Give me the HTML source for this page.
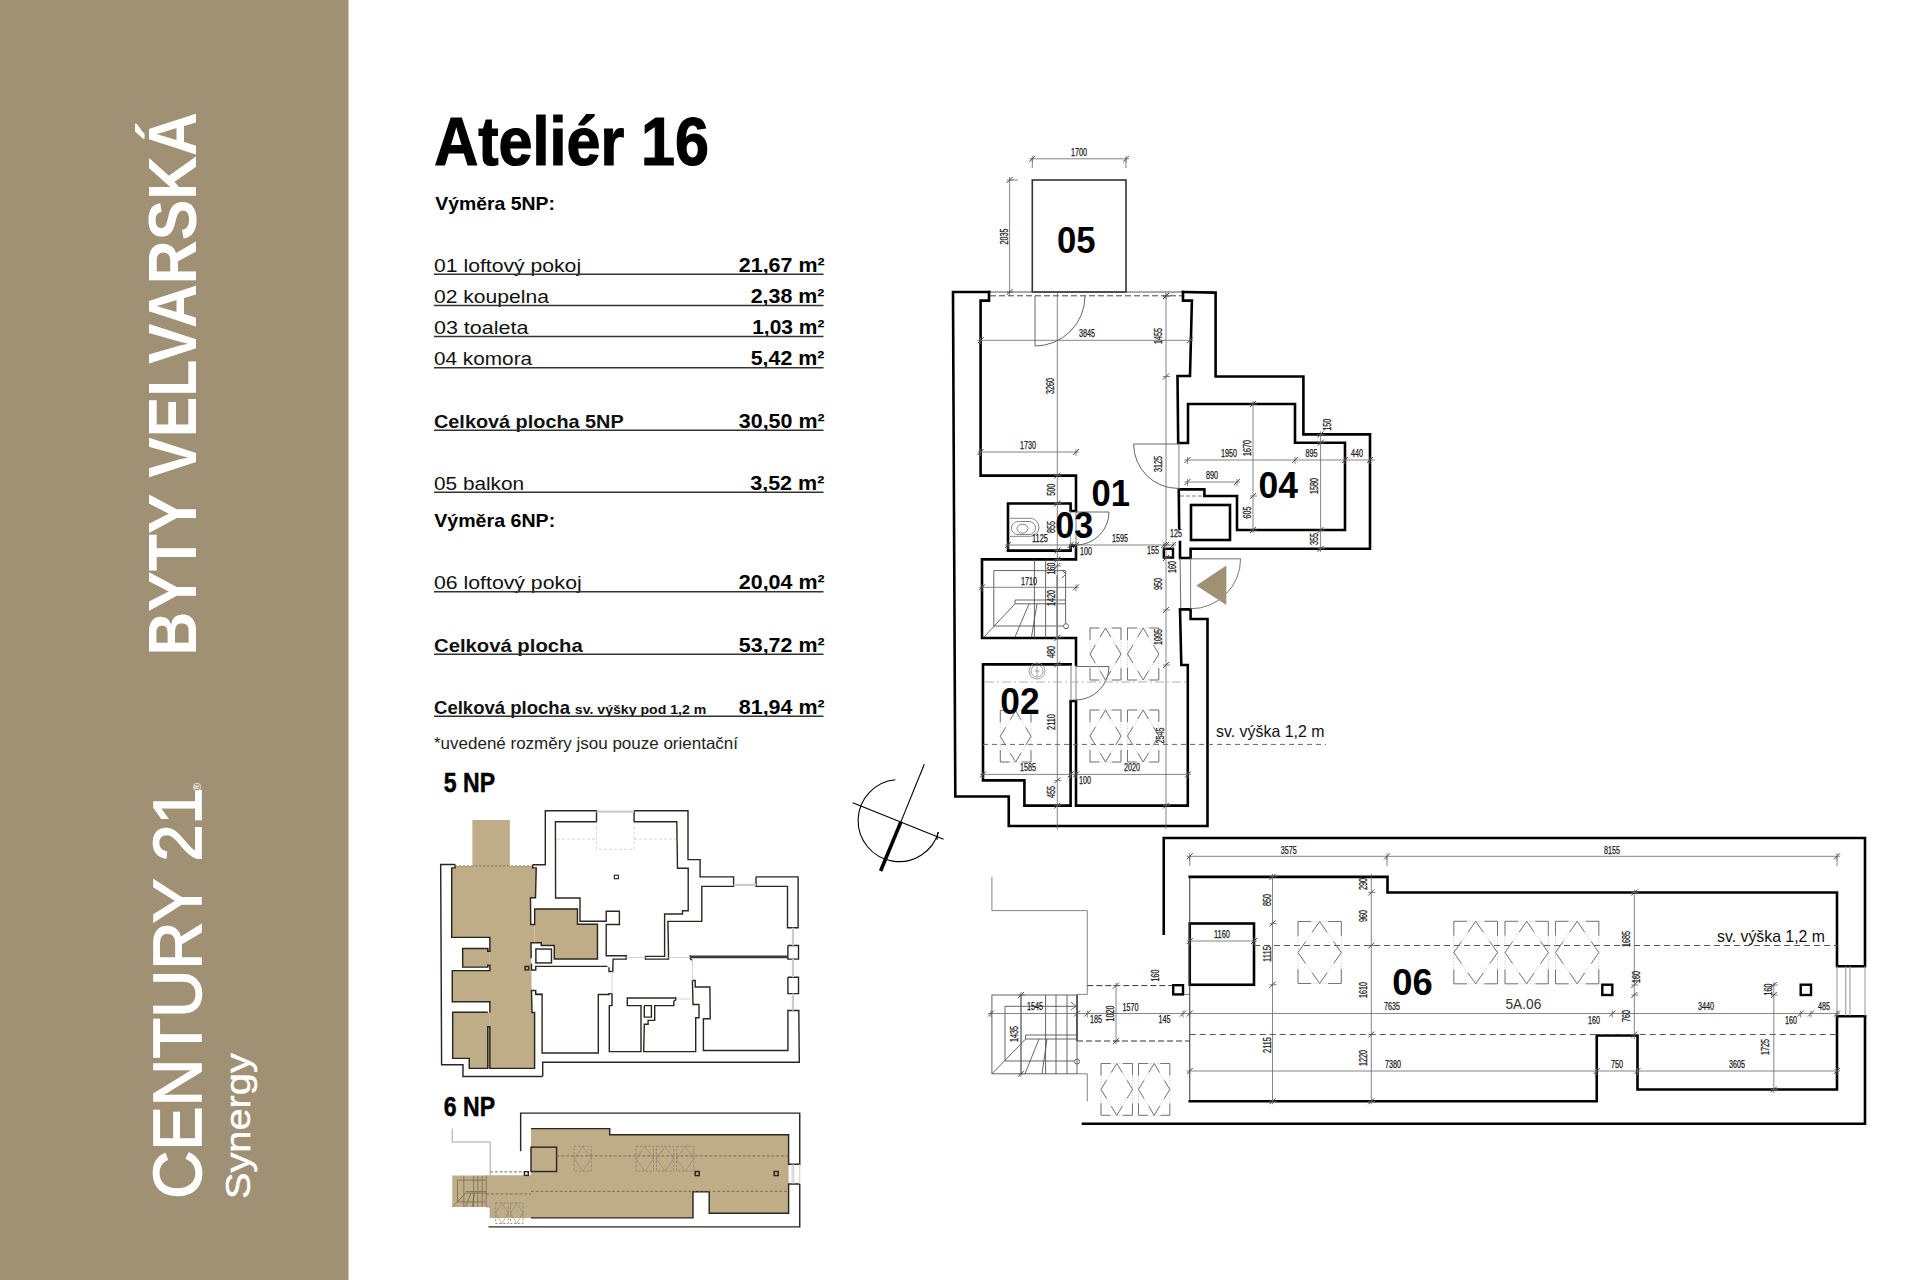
<!DOCTYPE html>
<html><head><meta charset="utf-8"><title>Ateliér 16</title>
<style>html,body{margin:0;padding:0;background:#fff;}svg{display:block;}
text{font-family:"Liberation Sans", sans-serif;}</style></head>
<body><svg width="1920" height="1280" viewBox="0 0 1920 1280">
<rect x="0" y="0" width="1920" height="1280" fill="#fff"/>
<rect x="0" y="0" width="348.5" height="1280" fill="#a09174"/>
<text transform="translate(195.8,655.6) rotate(-90)" font-size="68" font-weight="bold" fill="#fff" textLength="543.6" lengthAdjust="spacingAndGlyphs">BYTY VELVARSKÁ</text>
<text transform="translate(201.2,1198.7) rotate(-90)" font-size="68" font-weight="normal" fill="#fff" textLength="411.2" lengthAdjust="spacingAndGlyphs" stroke="#fff" stroke-width="1.6">CENTURY 21</text>
<text transform="translate(249.8,1199.1) rotate(-90)" font-size="35.5" fill="#fff" textLength="145.9" lengthAdjust="spacingAndGlyphs" stroke="#fff" stroke-width="0.5">Synergy</text>
<text transform="translate(201,791) rotate(-90)" font-size="11" fill="#fff">®</text>
<text x="434.2" y="165" font-size="68" font-weight="bold" fill="#000" text-anchor="start" textLength="274.8" lengthAdjust="spacingAndGlyphs" stroke="#000" stroke-width="1.2">Ateliér 16</text>
<text x="435.2" y="209.5" font-size="18.6" font-weight="bold" fill="#000" text-anchor="start" textLength="119.8" lengthAdjust="spacingAndGlyphs" >Výměra 5NP:</text>
<text x="434.0" y="272" font-size="18.3" font-weight="normal" fill="#111" text-anchor="start" textLength="147.1" lengthAdjust="spacingAndGlyphs" >01 loftový pokoj</text>
<text x="738.8" y="272" font-size="20" font-weight="bold" fill="#000" text-anchor="start" textLength="85.8" lengthAdjust="spacingAndGlyphs" >21,67 m²</text>
<line x1="434" y1="274.3" x2="823.5" y2="274.3" stroke="#333" stroke-width="1.4" />
<text x="434.0" y="303.1" font-size="18.3" font-weight="normal" fill="#111" text-anchor="start" textLength="114.9" lengthAdjust="spacingAndGlyphs" >02 koupelna</text>
<text x="750.6999999999999" y="303.1" font-size="20" font-weight="bold" fill="#000" text-anchor="start" textLength="73.7" lengthAdjust="spacingAndGlyphs" >2,38 m²</text>
<line x1="434" y1="305.5" x2="823.5" y2="305.5" stroke="#333" stroke-width="1.4" />
<text x="434.0" y="334.2" font-size="18.3" font-weight="normal" fill="#111" text-anchor="start" textLength="94.4" lengthAdjust="spacingAndGlyphs" >03 toaleta</text>
<text x="752.1999999999999" y="334.2" font-size="20" font-weight="bold" fill="#000" text-anchor="start" textLength="72.2" lengthAdjust="spacingAndGlyphs" >1,03 m²</text>
<line x1="434" y1="336.5" x2="823.5" y2="336.5" stroke="#333" stroke-width="1.4" />
<text x="434.0" y="365.4" font-size="18.3" font-weight="normal" fill="#111" text-anchor="start" textLength="98.1" lengthAdjust="spacingAndGlyphs" >04 komora</text>
<text x="750.6999999999999" y="365.4" font-size="20" font-weight="bold" fill="#000" text-anchor="start" textLength="73.7" lengthAdjust="spacingAndGlyphs" >5,42 m²</text>
<line x1="434" y1="367.7" x2="823.5" y2="367.7" stroke="#333" stroke-width="1.4" />
<text x="434.0" y="428.1" font-size="18.6" font-weight="bold" fill="#111" text-anchor="start" textLength="189.7" lengthAdjust="spacingAndGlyphs" >Celková plocha 5NP</text>
<text x="738.8" y="428.1" font-size="20" font-weight="bold" fill="#000" text-anchor="start" textLength="85.8" lengthAdjust="spacingAndGlyphs" >30,50 m²</text>
<line x1="434" y1="430.2" x2="823.5" y2="430.2" stroke="#333" stroke-width="1.4" />
<text x="434.0" y="490.2" font-size="18.3" font-weight="normal" fill="#111" text-anchor="start" textLength="90.1" lengthAdjust="spacingAndGlyphs" >05 balkon</text>
<text x="750.1999999999999" y="490.2" font-size="20" font-weight="bold" fill="#000" text-anchor="start" textLength="74.2" lengthAdjust="spacingAndGlyphs" >3,52 m²</text>
<line x1="434" y1="492.3" x2="823.5" y2="492.3" stroke="#333" stroke-width="1.4" />
<text x="434.0" y="589.2" font-size="18.3" font-weight="normal" fill="#111" text-anchor="start" textLength="147.7" lengthAdjust="spacingAndGlyphs" >06 loftový pokoj</text>
<text x="738.8" y="589.2" font-size="20" font-weight="bold" fill="#000" text-anchor="start" textLength="85.8" lengthAdjust="spacingAndGlyphs" >20,04 m²</text>
<line x1="434" y1="591.7" x2="823.5" y2="591.7" stroke="#333" stroke-width="1.4" />
<text x="434.0" y="651.7" font-size="18.6" font-weight="bold" fill="#111" text-anchor="start" textLength="148.7" lengthAdjust="spacingAndGlyphs" >Celková plocha</text>
<text x="738.8" y="651.7" font-size="20" font-weight="bold" fill="#000" text-anchor="start" textLength="85.8" lengthAdjust="spacingAndGlyphs" >53,72 m²</text>
<line x1="434" y1="654.2" x2="823.5" y2="654.2" stroke="#333" stroke-width="1.4" />
<text x="434.0" y="714.2" font-size="18.6" font-weight="bold" fill="#111" text-anchor="start" textLength="136" lengthAdjust="spacingAndGlyphs" >Celková plocha</text>
<text x="574.8" y="714.2" font-size="13.5" font-weight="bold" fill="#111" text-anchor="start" textLength="131.5" lengthAdjust="spacingAndGlyphs" >sv. výšky pod 1,2 m</text>
<text x="738.8" y="714.2" font-size="20" font-weight="bold" fill="#000" text-anchor="start" textLength="85.8" lengthAdjust="spacingAndGlyphs" >81,94 m²</text>
<line x1="434" y1="716.3" x2="823.5" y2="716.3" stroke="#333" stroke-width="1.4" />
<text x="434.2" y="527.1" font-size="18.6" font-weight="bold" fill="#000" text-anchor="start" textLength="121" lengthAdjust="spacingAndGlyphs" >Výměra 6NP:</text>
<text x="434" y="748.5" font-size="16.5" font-weight="normal" fill="#222" text-anchor="start" textLength="304" lengthAdjust="spacingAndGlyphs" >*uvedené rozměry jsou pouze orientační</text>
<text x="443.8" y="792" font-size="27" font-weight="bold" fill="#000" text-anchor="start" textLength="51.2" lengthAdjust="spacingAndGlyphs" stroke="#000" stroke-width="0.5">5 NP</text>
<text x="443.8" y="1115.8" font-size="27" font-weight="bold" fill="#000" text-anchor="start" textLength="51.2" lengthAdjust="spacingAndGlyphs" stroke="#000" stroke-width="0.5">6 NP</text>
<rect x="1032.3" y="180" width="93.7" height="112" fill="none" stroke="#333" stroke-width="1.6"/>
<line x1="1029.3" y1="158.8" x2="1129" y2="158.8" stroke="#666" stroke-width="0.8"/>
<path d="M1029.3,161.8 L1035.3,155.8" stroke="#333" stroke-width="0.9"/>
<line x1="1032.3" y1="155.8" x2="1032.3" y2="162.8" stroke="#666" stroke-width="0.8"/>
<path d="M1123,161.8 L1129,155.8" stroke="#333" stroke-width="0.9"/>
<line x1="1126" y1="155.8" x2="1126" y2="162.8" stroke="#666" stroke-width="0.8"/>
<line x1="1032.3" y1="158" x2="1032.3" y2="168" stroke="#666" stroke-width="0.8"/>
<line x1="1126" y1="158" x2="1126" y2="168" stroke="#666" stroke-width="0.8"/>
<text x="1079" y="156" font-size="10.2" fill="#1a1a1a" text-anchor="middle" textLength="16.0" lengthAdjust="spacingAndGlyphs" stroke="#1a1a1a" stroke-width="0.25">1700</text>
<line x1="1009.6" y1="177" x2="1009.6" y2="295" stroke="#666" stroke-width="0.8"/>
<path d="M1006.6,183 L1012.6,177" stroke="#333" stroke-width="0.9"/>
<line x1="1006.6" y1="180" x2="1013.6" y2="180" stroke="#666" stroke-width="0.8"/>
<path d="M1006.6,295 L1012.6,289" stroke="#333" stroke-width="0.9"/>
<line x1="1006.6" y1="292" x2="1013.6" y2="292" stroke="#666" stroke-width="0.8"/>
<line x1="1009.6" y1="180" x2="1018" y2="180" stroke="#666" stroke-width="0.8"/>
<text transform="translate(1007.8,236.5) rotate(-90)" font-size="10.2" fill="#1a1a1a" text-anchor="middle" textLength="16.0" lengthAdjust="spacingAndGlyphs" stroke="#1a1a1a" stroke-width="0.25">2035</text>
<text x="1057" y="253" font-size="36" font-weight="bold" fill="#000" textLength="38.6" lengthAdjust="spacingAndGlyphs">05</text>
<line x1="989" y1="292" x2="1183" y2="292" stroke="#444" stroke-width="0.9" />
<line x1="990" y1="295.8" x2="1183" y2="295.8" stroke="#444" stroke-width="1" stroke-dasharray="6,3"/>
<path d="M989,292 L953,292 L955.3,796.5 L1008.75,796.5 L1008.75,826 L1207.5,826 L1207.5,619 L1190.6,619 L1190.6,609.4 L1180,609.4 L1181.3,665 L1187.8,665 L1187.8,805.6 L1076,805.6 L1076,701 L1070.6,701 L1070.6,805.6 L1024.4,805.6 L1024.4,780.4 L983,780.4 L983,664.4 L1070.6,664.4" fill="none" stroke="#000" stroke-width="2.6" stroke-linejoin="miter" stroke-linecap="square" />
<path d="M989,292 L989,300.6 L980.6,300.6 L980.6,475.6 L1076,475.6 L1076,511 L1070.6,511 L1070.6,503.5 L1008,503.5 L1008,550.6 L1070.6,550.6 L1070.6,545.6 L1076,545.6 L1076,559.4 L982,559.4 L982,638 L1076,638 L1076,665" fill="none" stroke="#000" stroke-width="2.6" stroke-linejoin="miter" stroke-linecap="square" />
<path d="M1183,292 L1215.6,292.6 L1215.6,376.5 L1303.4,376.5 L1303.4,434.4 L1370,434.4 L1370,548.75 L1190.6,548.75 L1190.6,558 L1180,558 L1180,542" fill="none" stroke="#000" stroke-width="2.6" stroke-linejoin="miter" stroke-linecap="square" />
<path d="M1183,292 L1183,300.6 L1191.9,300.6 L1190,376 L1177.5,376 L1178.2,443 L1188,443 L1188,404 L1295,404 L1295,442.75 L1345,442.75 L1345,530 L1237,530 L1237,496 L1204.4,496 L1204.4,489.4 L1178.75,489.4 L1179.2,528" fill="none" stroke="#000" stroke-width="2.6" stroke-linejoin="miter" stroke-linecap="square" />
<rect x="1191" y="505" width="39" height="35" fill="none" stroke="#000" stroke-width="2.6" />
<rect x="1163.8" y="548.8" width="9.200000000000045" height="8.800000000000068" fill="none" stroke="#000" stroke-width="2.4" />
<line x1="1071" y1="665" x2="1071" y2="701" stroke="#777" stroke-width="0.9" />
<line x1="1076" y1="665" x2="1076" y2="701" stroke="#777" stroke-width="0.9" />
<line x1="1180" y1="558" x2="1180.8" y2="609" stroke="#555" stroke-width="0.9" />
<line x1="1190.6" y1="558" x2="1190.6" y2="609" stroke="#777" stroke-width="0.9" />
<line x1="1076" y1="511" x2="1076" y2="545.6" stroke="#777" stroke-width="0.9" />
<line x1="1070.6" y1="511" x2="1070.6" y2="545.6" stroke="#999" stroke-width="0.9" />
<line x1="1178.9" y1="443" x2="1178.9" y2="489.4" stroke="#777" stroke-width="0.9" />
<line x1="1180" y1="496" x2="1204" y2="496" stroke="#777" stroke-width="0.9" stroke-dasharray="4,2"/>
<path d="M1035,296 L1035,346 A50,50 0 0 0 1085,296" fill="none" stroke="#555" stroke-width="0.9"/>
<path d="M1178,444 L1133.6,444 A44.4,44.4 0 0 0 1178,488.4" fill="none" stroke="#555" stroke-width="0.9"/>
<path d="M1076,512 L1109,512 A33,33 0 0 1 1076,545" fill="none" stroke="#555" stroke-width="0.9"/>
<path d="M1076,666.5 L1109,666.5 A33.5,33.5 0 0 1 1076,700" fill="none" stroke="#555" stroke-width="0.9"/>
<path d="M1190.6,558.8 L1240.6,558.8 A50,50 0 0 1 1190.6,608.8" fill="none" stroke="#666" stroke-width="0.9"/>
<path d="M1196.3,585.6 L1226.3,565.6 L1226.3,605 Z" fill="#a09174"/>
<g fill="none" stroke="#555" stroke-width="0.9"><path d="M993.8,626 L993.8,570.6 L1065.6,570.6 L1065.6,623.5"/><path d="M993.8,626 L1063,626"/><path d="M1034.4,559.4 L1034.4,638 M1045.6,559.4 L1045.6,638 M1015,600 L1065.6,600 M1015,603.8 L1065.6,603.8 M1015,600 L1015,603.8"/><path d="M1015,603.8 L984,637 M1029,603.8 L1015,637 M1037,603.8 L1031.5,637"/><circle cx="1066" cy="626.2" r="2.5"/><path d="M1062,570 L1066,574 L1062,578"/></g>
<line x1="1057" y1="575" x2="1057" y2="638" stroke="#999" stroke-width="1.6" />
<g fill="none" stroke="#666" stroke-width="0.8"><path d="M1010,518.3 L1030,518.3 A9,9 0 0 1 1030,536.3 L1010,536.3"/><ellipse cx="1022.5" cy="528.7" rx="5.5" ry="4.5"/><path d="M1018,521.5 L1029,521.5 A6.5,6.5 0 0 1 1029,534.5 L1018,534.5 A6.5,6.5 0 0 1 1018,521.5"/></g>
<g fill="none" stroke="#888" stroke-width="0.8"><circle cx="1037" cy="671" r="8"/><circle cx="1037" cy="671" r="6"/><path d="M1037,666 L1037,676 M1034.5,671 L1039.5,671"/></g>
<line x1="1057.3" y1="293" x2="1057.3" y2="829" stroke="#666" stroke-width="0.8"/>
<path d="M1054.3,478.6 L1060.3,472.6" stroke="#333" stroke-width="0.9"/>
<line x1="1054.3" y1="475.6" x2="1061.3" y2="475.6" stroke="#666" stroke-width="0.8"/>
<path d="M1054.3,506.5 L1060.3,500.5" stroke="#333" stroke-width="0.9"/>
<line x1="1054.3" y1="503.5" x2="1061.3" y2="503.5" stroke="#666" stroke-width="0.8"/>
<path d="M1054.3,553.6 L1060.3,547.6" stroke="#333" stroke-width="0.9"/>
<line x1="1054.3" y1="550.6" x2="1061.3" y2="550.6" stroke="#666" stroke-width="0.8"/>
<path d="M1054.3,562.4 L1060.3,556.4" stroke="#333" stroke-width="0.9"/>
<line x1="1054.3" y1="559.4" x2="1061.3" y2="559.4" stroke="#666" stroke-width="0.8"/>
<path d="M1054.3,569 L1060.3,563" stroke="#333" stroke-width="0.9"/>
<line x1="1054.3" y1="566" x2="1061.3" y2="566" stroke="#666" stroke-width="0.8"/>
<path d="M1054.3,641 L1060.3,635" stroke="#333" stroke-width="0.9"/>
<line x1="1054.3" y1="638" x2="1061.3" y2="638" stroke="#666" stroke-width="0.8"/>
<path d="M1054.3,667.4 L1060.3,661.4" stroke="#333" stroke-width="0.9"/>
<line x1="1054.3" y1="664.4" x2="1061.3" y2="664.4" stroke="#666" stroke-width="0.8"/>
<path d="M1054.3,783.4 L1060.3,777.4" stroke="#333" stroke-width="0.9"/>
<line x1="1054.3" y1="780.4" x2="1061.3" y2="780.4" stroke="#666" stroke-width="0.8"/>
<path d="M1054.3,808.6 L1060.3,802.6" stroke="#333" stroke-width="0.9"/>
<line x1="1054.3" y1="805.6" x2="1061.3" y2="805.6" stroke="#666" stroke-width="0.8"/>
<line x1="1166" y1="293" x2="1166" y2="829" stroke="#666" stroke-width="0.8"/>
<path d="M1163,299 L1169,293" stroke="#333" stroke-width="0.9"/>
<line x1="1163" y1="296" x2="1170" y2="296" stroke="#666" stroke-width="0.8"/>
<path d="M1163,379.5 L1169,373.5" stroke="#333" stroke-width="0.9"/>
<line x1="1163" y1="376.5" x2="1170" y2="376.5" stroke="#666" stroke-width="0.8"/>
<path d="M1163,548 L1169,542" stroke="#333" stroke-width="0.9"/>
<line x1="1163" y1="545" x2="1170" y2="545" stroke="#666" stroke-width="0.8"/>
<path d="M1163,561 L1169,555" stroke="#333" stroke-width="0.9"/>
<line x1="1163" y1="558" x2="1170" y2="558" stroke="#666" stroke-width="0.8"/>
<path d="M1163,613 L1169,607" stroke="#333" stroke-width="0.9"/>
<line x1="1163" y1="610" x2="1170" y2="610" stroke="#666" stroke-width="0.8"/>
<path d="M1163,668 L1169,662" stroke="#333" stroke-width="0.9"/>
<line x1="1163" y1="665" x2="1170" y2="665" stroke="#666" stroke-width="0.8"/>
<path d="M1163,808.6 L1169,802.6" stroke="#333" stroke-width="0.9"/>
<line x1="1163" y1="805.6" x2="1170" y2="805.6" stroke="#666" stroke-width="0.8"/>
<line x1="977.6" y1="340.3" x2="1193" y2="340.3" stroke="#666" stroke-width="0.8"/>
<path d="M977.6,343.3 L983.6,337.3" stroke="#333" stroke-width="0.9"/>
<line x1="980.6" y1="337.3" x2="980.6" y2="344.3" stroke="#666" stroke-width="0.8"/>
<path d="M1187,343.3 L1193,337.3" stroke="#333" stroke-width="0.9"/>
<line x1="1190" y1="337.3" x2="1190" y2="344.3" stroke="#666" stroke-width="0.8"/>
<line x1="977.6" y1="452" x2="1079" y2="452" stroke="#666" stroke-width="0.8"/>
<path d="M977.6,455 L983.6,449" stroke="#333" stroke-width="0.9"/>
<line x1="980.6" y1="449" x2="980.6" y2="456" stroke="#666" stroke-width="0.8"/>
<path d="M1073,455 L1079,449" stroke="#333" stroke-width="0.9"/>
<line x1="1076" y1="449" x2="1076" y2="456" stroke="#666" stroke-width="0.8"/>
<line x1="1005" y1="545" x2="1176" y2="545" stroke="#666" stroke-width="0.8"/>
<path d="M1005,548 L1011,542" stroke="#333" stroke-width="0.9"/>
<line x1="1008" y1="542" x2="1008" y2="549" stroke="#666" stroke-width="0.8"/>
<path d="M1067.6,548 L1073.6,542" stroke="#333" stroke-width="0.9"/>
<line x1="1070.6" y1="542" x2="1070.6" y2="549" stroke="#666" stroke-width="0.8"/>
<path d="M1073,548 L1079,542" stroke="#333" stroke-width="0.9"/>
<line x1="1076" y1="542" x2="1076" y2="549" stroke="#666" stroke-width="0.8"/>
<path d="M1161,548 L1167,542" stroke="#333" stroke-width="0.9"/>
<line x1="1164" y1="542" x2="1164" y2="549" stroke="#666" stroke-width="0.8"/>
<path d="M1170,548 L1176,542" stroke="#333" stroke-width="0.9"/>
<line x1="1173" y1="542" x2="1173" y2="549" stroke="#666" stroke-width="0.8"/>
<line x1="979" y1="587.3" x2="1079" y2="587.3" stroke="#666" stroke-width="0.8"/>
<path d="M979,590.3 L985,584.3" stroke="#333" stroke-width="0.9"/>
<line x1="982" y1="584.3" x2="982" y2="591.3" stroke="#666" stroke-width="0.8"/>
<path d="M1073,590.3 L1079,584.3" stroke="#333" stroke-width="0.9"/>
<line x1="1076" y1="584.3" x2="1076" y2="591.3" stroke="#666" stroke-width="0.8"/>
<line x1="980" y1="774.4" x2="1191" y2="774.4" stroke="#666" stroke-width="0.8"/>
<path d="M980,777.4 L986,771.4" stroke="#333" stroke-width="0.9"/>
<line x1="983" y1="771.4" x2="983" y2="778.4" stroke="#666" stroke-width="0.8"/>
<path d="M1067.6,777.4 L1073.6,771.4" stroke="#333" stroke-width="0.9"/>
<line x1="1070.6" y1="771.4" x2="1070.6" y2="778.4" stroke="#666" stroke-width="0.8"/>
<path d="M1073,777.4 L1079,771.4" stroke="#333" stroke-width="0.9"/>
<line x1="1076" y1="771.4" x2="1076" y2="778.4" stroke="#666" stroke-width="0.8"/>
<path d="M1185,777.4 L1191,771.4" stroke="#333" stroke-width="0.9"/>
<line x1="1188" y1="771.4" x2="1188" y2="778.4" stroke="#666" stroke-width="0.8"/>
<line x1="1184.5" y1="460" x2="1375" y2="460" stroke="#666" stroke-width="0.8"/>
<path d="M1184.5,463 L1190.5,457" stroke="#333" stroke-width="0.9"/>
<line x1="1187.5" y1="457" x2="1187.5" y2="464" stroke="#666" stroke-width="0.8"/>
<path d="M1292,463 L1298,457" stroke="#333" stroke-width="0.9"/>
<line x1="1295" y1="457" x2="1295" y2="464" stroke="#666" stroke-width="0.8"/>
<path d="M1342,463 L1348,457" stroke="#333" stroke-width="0.9"/>
<line x1="1345" y1="457" x2="1345" y2="464" stroke="#666" stroke-width="0.8"/>
<path d="M1367,463 L1373,457" stroke="#333" stroke-width="0.9"/>
<line x1="1370" y1="457" x2="1370" y2="464" stroke="#666" stroke-width="0.8"/>
<line x1="1184.5" y1="482" x2="1240" y2="482" stroke="#666" stroke-width="0.8"/>
<path d="M1184.5,485 L1190.5,479" stroke="#333" stroke-width="0.9"/>
<line x1="1187.5" y1="479" x2="1187.5" y2="486" stroke="#666" stroke-width="0.8"/>
<path d="M1234,485 L1240,479" stroke="#333" stroke-width="0.9"/>
<line x1="1237" y1="479" x2="1237" y2="486" stroke="#666" stroke-width="0.8"/>
<line x1="1253" y1="401" x2="1253" y2="533" stroke="#666" stroke-width="0.8"/>
<path d="M1250,407 L1256,401" stroke="#333" stroke-width="0.9"/>
<line x1="1250" y1="404" x2="1257" y2="404" stroke="#666" stroke-width="0.8"/>
<path d="M1250,499 L1256,493" stroke="#333" stroke-width="0.9"/>
<line x1="1250" y1="496" x2="1257" y2="496" stroke="#666" stroke-width="0.8"/>
<path d="M1250,533 L1256,527" stroke="#333" stroke-width="0.9"/>
<line x1="1250" y1="530" x2="1257" y2="530" stroke="#666" stroke-width="0.8"/>
<line x1="1320.6" y1="431.4" x2="1320.6" y2="552" stroke="#666" stroke-width="0.8"/>
<path d="M1317.6,437.4 L1323.6,431.4" stroke="#333" stroke-width="0.9"/>
<line x1="1317.6" y1="434.4" x2="1324.6" y2="434.4" stroke="#666" stroke-width="0.8"/>
<path d="M1317.6,445.75 L1323.6,439.75" stroke="#333" stroke-width="0.9"/>
<line x1="1317.6" y1="442.75" x2="1324.6" y2="442.75" stroke="#666" stroke-width="0.8"/>
<path d="M1317.6,533 L1323.6,527" stroke="#333" stroke-width="0.9"/>
<line x1="1317.6" y1="530" x2="1324.6" y2="530" stroke="#666" stroke-width="0.8"/>
<path d="M1317.6,551.75 L1323.6,545.75" stroke="#333" stroke-width="0.9"/>
<line x1="1317.6" y1="548.75" x2="1324.6" y2="548.75" stroke="#666" stroke-width="0.8"/>
<line x1="1166" y1="293" x2="1166" y2="299" stroke="#666" stroke-width="0.8"/>
<path d="M1163,299 L1169,293" stroke="#333" stroke-width="0.9"/>
<line x1="1163" y1="296" x2="1170" y2="296" stroke="#666" stroke-width="0.8"/>
<path d="M1163,299 L1169,293" stroke="#333" stroke-width="0.9"/>
<line x1="1163" y1="296" x2="1170" y2="296" stroke="#666" stroke-width="0.8"/>
<text x="1087" y="336.5" font-size="10.2" fill="#1a1a1a" text-anchor="middle" textLength="16.0" lengthAdjust="spacingAndGlyphs" stroke="#1a1a1a" stroke-width="0.25">3845</text>
<text x="1028" y="449" font-size="10.2" fill="#1a1a1a" text-anchor="middle" textLength="16.0" lengthAdjust="spacingAndGlyphs" stroke="#1a1a1a" stroke-width="0.25">1730</text>
<text x="1040" y="542" font-size="10.2" fill="#1a1a1a" text-anchor="middle" textLength="16.0" lengthAdjust="spacingAndGlyphs" stroke="#1a1a1a" stroke-width="0.25">1125</text>
<text x="1120" y="542" font-size="10.2" fill="#1a1a1a" text-anchor="middle" textLength="16.0" lengthAdjust="spacingAndGlyphs" stroke="#1a1a1a" stroke-width="0.25">1595</text>
<text x="1029" y="585" font-size="10.2" fill="#1a1a1a" text-anchor="middle" textLength="16.0" lengthAdjust="spacingAndGlyphs" stroke="#1a1a1a" stroke-width="0.25">1710</text>
<text x="1028" y="771" font-size="10.2" fill="#1a1a1a" text-anchor="middle" textLength="16.0" lengthAdjust="spacingAndGlyphs" stroke="#1a1a1a" stroke-width="0.25">1585</text>
<text x="1132" y="771" font-size="10.2" fill="#1a1a1a" text-anchor="middle" textLength="16.0" lengthAdjust="spacingAndGlyphs" stroke="#1a1a1a" stroke-width="0.25">2020</text>
<text x="1086" y="555" font-size="10.2" fill="#1a1a1a" text-anchor="middle" textLength="12.0" lengthAdjust="spacingAndGlyphs" stroke="#1a1a1a" stroke-width="0.25">100</text>
<text x="1085" y="784" font-size="10.2" fill="#1a1a1a" text-anchor="middle" textLength="12.0" lengthAdjust="spacingAndGlyphs" stroke="#1a1a1a" stroke-width="0.25">100</text>
<text x="1153" y="554" font-size="10.2" fill="#1a1a1a" text-anchor="middle" textLength="12.0" lengthAdjust="spacingAndGlyphs" stroke="#1a1a1a" stroke-width="0.25">155</text>
<text x="1176" y="537" font-size="10.2" fill="#1a1a1a" text-anchor="middle" textLength="12.0" lengthAdjust="spacingAndGlyphs" stroke="#1a1a1a" stroke-width="0.25">125</text>
<text x="1229" y="457" font-size="10.2" fill="#1a1a1a" text-anchor="middle" textLength="16.0" lengthAdjust="spacingAndGlyphs" stroke="#1a1a1a" stroke-width="0.25">1950</text>
<text x="1311.5" y="457" font-size="10.2" fill="#1a1a1a" text-anchor="middle" textLength="12.0" lengthAdjust="spacingAndGlyphs" stroke="#1a1a1a" stroke-width="0.25">895</text>
<text x="1357" y="457" font-size="10.2" fill="#1a1a1a" text-anchor="middle" textLength="12.0" lengthAdjust="spacingAndGlyphs" stroke="#1a1a1a" stroke-width="0.25">440</text>
<text x="1212" y="479" font-size="10.2" fill="#1a1a1a" text-anchor="middle" textLength="12.0" lengthAdjust="spacingAndGlyphs" stroke="#1a1a1a" stroke-width="0.25">890</text>
<text transform="translate(1054,386) rotate(-90)" font-size="10.2" fill="#1a1a1a" text-anchor="middle" textLength="16.0" lengthAdjust="spacingAndGlyphs" stroke="#1a1a1a" stroke-width="0.25">3260</text>
<text transform="translate(1162,336) rotate(-90)" font-size="10.2" fill="#1a1a1a" text-anchor="middle" textLength="16.0" lengthAdjust="spacingAndGlyphs" stroke="#1a1a1a" stroke-width="0.25">1455</text>
<text transform="translate(1162,464) rotate(-90)" font-size="10.2" fill="#1a1a1a" text-anchor="middle" textLength="16.0" lengthAdjust="spacingAndGlyphs" stroke="#1a1a1a" stroke-width="0.25">3125</text>
<text transform="translate(1055,489.7) rotate(-90)" font-size="10.2" fill="#1a1a1a" text-anchor="middle" textLength="12.0" lengthAdjust="spacingAndGlyphs" stroke="#1a1a1a" stroke-width="0.25">500</text>
<text transform="translate(1055,527) rotate(-90)" font-size="10.2" fill="#1a1a1a" text-anchor="middle" textLength="12.0" lengthAdjust="spacingAndGlyphs" stroke="#1a1a1a" stroke-width="0.25">855</text>
<text transform="translate(1055,568.4) rotate(-90)" font-size="10.2" fill="#1a1a1a" text-anchor="middle" textLength="12.0" lengthAdjust="spacingAndGlyphs" stroke="#1a1a1a" stroke-width="0.25">160</text>
<text transform="translate(1055,598) rotate(-90)" font-size="10.2" fill="#1a1a1a" text-anchor="middle" textLength="16.0" lengthAdjust="spacingAndGlyphs" stroke="#1a1a1a" stroke-width="0.25">1420</text>
<text transform="translate(1055,652) rotate(-90)" font-size="10.2" fill="#1a1a1a" text-anchor="middle" textLength="12.0" lengthAdjust="spacingAndGlyphs" stroke="#1a1a1a" stroke-width="0.25">480</text>
<text transform="translate(1055,722) rotate(-90)" font-size="10.2" fill="#1a1a1a" text-anchor="middle" textLength="16.0" lengthAdjust="spacingAndGlyphs" stroke="#1a1a1a" stroke-width="0.25">2110</text>
<text transform="translate(1055,792) rotate(-90)" font-size="10.2" fill="#1a1a1a" text-anchor="middle" textLength="12.0" lengthAdjust="spacingAndGlyphs" stroke="#1a1a1a" stroke-width="0.25">455</text>
<text transform="translate(1162,584) rotate(-90)" font-size="10.2" fill="#1a1a1a" text-anchor="middle" textLength="12.0" lengthAdjust="spacingAndGlyphs" stroke="#1a1a1a" stroke-width="0.25">950</text>
<text transform="translate(1176,567) rotate(-90)" font-size="10.2" fill="#1a1a1a" text-anchor="middle" textLength="12.0" lengthAdjust="spacingAndGlyphs" stroke="#1a1a1a" stroke-width="0.25">160</text>
<text transform="translate(1162,637) rotate(-90)" font-size="10.2" fill="#1a1a1a" text-anchor="middle" textLength="16.0" lengthAdjust="spacingAndGlyphs" stroke="#1a1a1a" stroke-width="0.25">1005</text>
<text transform="translate(1163.5,735.4) rotate(-90)" font-size="10.2" fill="#1a1a1a" text-anchor="middle" textLength="16.0" lengthAdjust="spacingAndGlyphs" stroke="#1a1a1a" stroke-width="0.25">2545</text>
<text transform="translate(1250.6,448) rotate(-90)" font-size="10.2" fill="#1a1a1a" text-anchor="middle" textLength="16.0" lengthAdjust="spacingAndGlyphs" stroke="#1a1a1a" stroke-width="0.25">1670</text>
<text transform="translate(1250.6,512.5) rotate(-90)" font-size="10.2" fill="#1a1a1a" text-anchor="middle" textLength="12.0" lengthAdjust="spacingAndGlyphs" stroke="#1a1a1a" stroke-width="0.25">605</text>
<text transform="translate(1318,486) rotate(-90)" font-size="10.2" fill="#1a1a1a" text-anchor="middle" textLength="16.0" lengthAdjust="spacingAndGlyphs" stroke="#1a1a1a" stroke-width="0.25">1580</text>
<text transform="translate(1330.6,424.7) rotate(-90)" font-size="10.2" fill="#1a1a1a" text-anchor="middle" textLength="12.0" lengthAdjust="spacingAndGlyphs" stroke="#1a1a1a" stroke-width="0.25">150</text>
<text transform="translate(1318,539) rotate(-90)" font-size="10.2" fill="#1a1a1a" text-anchor="middle" textLength="12.0" lengthAdjust="spacingAndGlyphs" stroke="#1a1a1a" stroke-width="0.25">355</text>
<line x1="983" y1="744.4" x2="1326" y2="744.4" stroke="#666" stroke-width="1" stroke-dasharray="5,4"/>
<line x1="985" y1="682" x2="1186" y2="682" stroke="#aaa" stroke-width="0.9" stroke-dasharray="9,3,2,3"/>
<rect x="1090" y="628" width="31" height="52" fill="none" stroke="#c8c8c8" stroke-width="0.8" stroke-dasharray="1.5,1.5"/>
<path d="M1105.5,628 L1121,654.0 L1105.5,680 L1090,654.0 Z" fill="none" stroke="#c8c8c8" stroke-width="0.8" stroke-dasharray="1.5,1.5"/>
<path d="M1090,639.96 L1090,628 L1099.3,628 M1111.7,628 L1121,628 L1121,639.96 M1121,668.04 L1121,680 L1111.7,680 M1099.3,680 L1090,680 L1090,668.04 M1100.1,637.1 L1105.5,628.0 L1110.9,637.1 M1115.6,644.9 L1121.0,654.0 L1115.6,663.1 M1110.9,670.9 L1105.5,680.0 L1100.1,670.9 M1095.4,663.1 L1090.0,654.0 L1095.4,644.9 " fill="none" stroke="#707070" stroke-width="0.95"/>
<rect x="1127.5" y="628" width="31.299999999999955" height="52" fill="none" stroke="#c8c8c8" stroke-width="0.8" stroke-dasharray="1.5,1.5"/>
<path d="M1143.15,628 L1158.8,654.0 L1143.15,680 L1127.5,654.0 Z" fill="none" stroke="#c8c8c8" stroke-width="0.8" stroke-dasharray="1.5,1.5"/>
<path d="M1127.5,639.96 L1127.5,628 L1136.8899999999999,628 M1149.4099999999999,628 L1158.8,628 L1158.8,639.96 M1158.8,668.04 L1158.8,680 L1149.4099999999999,680 M1136.8899999999999,680 L1127.5,680 L1127.5,668.04 M1137.7,637.1 L1143.2,628.0 L1148.6,637.1 M1153.3,644.9 L1158.8,654.0 L1153.3,663.1 M1148.6,670.9 L1143.2,680.0 L1137.7,670.9 M1133.0,663.1 L1127.5,654.0 L1133.0,644.9 " fill="none" stroke="#707070" stroke-width="0.95"/>
<rect x="1090" y="710" width="31" height="52" fill="none" stroke="#c8c8c8" stroke-width="0.8" stroke-dasharray="1.5,1.5"/>
<path d="M1105.5,710 L1121,736.0 L1105.5,762 L1090,736.0 Z" fill="none" stroke="#c8c8c8" stroke-width="0.8" stroke-dasharray="1.5,1.5"/>
<path d="M1090,721.96 L1090,710 L1099.3,710 M1111.7,710 L1121,710 L1121,721.96 M1121,750.04 L1121,762 L1111.7,762 M1099.3,762 L1090,762 L1090,750.04 M1100.1,719.1 L1105.5,710.0 L1110.9,719.1 M1115.6,726.9 L1121.0,736.0 L1115.6,745.1 M1110.9,752.9 L1105.5,762.0 L1100.1,752.9 M1095.4,745.1 L1090.0,736.0 L1095.4,726.9 " fill="none" stroke="#707070" stroke-width="0.95"/>
<rect x="1127.5" y="710" width="31.299999999999955" height="52" fill="none" stroke="#c8c8c8" stroke-width="0.8" stroke-dasharray="1.5,1.5"/>
<path d="M1143.15,710 L1158.8,736.0 L1143.15,762 L1127.5,736.0 Z" fill="none" stroke="#c8c8c8" stroke-width="0.8" stroke-dasharray="1.5,1.5"/>
<path d="M1127.5,721.96 L1127.5,710 L1136.8899999999999,710 M1149.4099999999999,710 L1158.8,710 L1158.8,721.96 M1158.8,750.04 L1158.8,762 L1149.4099999999999,762 M1136.8899999999999,762 L1127.5,762 L1127.5,750.04 M1137.7,719.1 L1143.2,710.0 L1148.6,719.1 M1153.3,726.9 L1158.8,736.0 L1153.3,745.1 M1148.6,752.9 L1143.2,762.0 L1137.7,752.9 M1133.0,745.1 L1127.5,736.0 L1133.0,726.9 " fill="none" stroke="#707070" stroke-width="0.95"/>
<rect x="1000.3" y="710.6" width="30.700000000000045" height="51.39999999999998" fill="none" stroke="#c8c8c8" stroke-width="0.8" stroke-dasharray="1.5,1.5"/>
<path d="M1015.65,710.6 L1031,736.3 L1015.65,762 L1000.3,736.3 Z" fill="none" stroke="#c8c8c8" stroke-width="0.8" stroke-dasharray="1.5,1.5"/>
<path d="M1000.3,722.422 L1000.3,710.6 L1009.51,710.6 M1021.79,710.6 L1031,710.6 L1031,722.422 M1031,750.178 L1031,762 L1021.79,762 M1009.51,762 L1000.3,762 L1000.3,750.178 M1010.3,719.6 L1015.6,710.6 L1021.0,719.6 M1025.6,727.3 L1031.0,736.3 L1025.6,745.3 M1021.0,753.0 L1015.6,762.0 L1010.3,753.0 M1005.7,745.3 L1000.3,736.3 L1005.7,727.3 " fill="none" stroke="#707070" stroke-width="0.95"/>
<text x="1091.5" y="505.6" font-size="36" font-weight="bold" fill="#000" textLength="38.5" lengthAdjust="spacingAndGlyphs">01</text>
<text x="1055.3" y="538" font-size="36" font-weight="bold" fill="#000" textLength="38" lengthAdjust="spacingAndGlyphs">03</text>
<text x="1258.5" y="497.8" font-size="36" font-weight="bold" fill="#000" textLength="39.5" lengthAdjust="spacingAndGlyphs">04</text>
<text x="1000.3" y="714.4" font-size="36" font-weight="bold" fill="#000" textLength="39.3" lengthAdjust="spacingAndGlyphs">02</text>
<text x="1216" y="737" font-size="16.5" fill="#111" textLength="108.5" lengthAdjust="spacingAndGlyphs">sv. výška 1,2 m</text>
<g fill="none" stroke="#000"><path d="M895.3,779.8 A41,41 0 1 0 938.5,832" stroke-width="1.1"/><line x1="924.3" y1="764.2" x2="901" y2="821.6" stroke-width="1.1"/><line x1="901" y1="821.6" x2="880.6" y2="871" stroke-width="3.6"/><line x1="852.7" y1="802.8" x2="943.6" y2="839.3" stroke-width="1.1"/><line x1="938" y1="832" x2="937" y2="840" stroke-width="1"/></g>
<g fill="none" stroke="#777" stroke-width="0.9"><path d="M991.9,876.9 L991.9,910.6 L1087.3,910.6 L1087.3,994.4 L1077,994.4 L1077,1041"/><path d="M1077,1073.8 L1087.3,1073.8 L1087.3,1101.3"/><path d="M1183,994.4 L1189.8,994.4"/></g>
<line x1="1087.3" y1="985.6" x2="1173" y2="985.6" stroke="#333" stroke-width="1" stroke-dasharray="6,3"/>
<line x1="1077" y1="1041" x2="1189.8" y2="1041" stroke="#333" stroke-width="1" stroke-dasharray="6,3"/>
<g fill="none" stroke="#555" stroke-width="0.9"><rect x="991.9" y="995" width="85.1" height="78.8"/><path d="M1021,995 L1021,1073.8 M1045.6,995 L1045.6,1073.8 M1056,995 L1056,1073.8 M1067,995 L1067,1073.8"/><path d="M1005,1061 L1005,1006.3 L1076,1006.3 M1005,1061 L1074.5,1061"/><path d="M1025.6,1035 L1077,1035 M1025.6,1039 L1077,1039 M1025.6,1035 L1025.6,1039"/><path d="M1025.6,1039 L992,1073.8 M1039,1039 L1025,1073.8 M1047,1039 L1042,1073.8"/><circle cx="1077" cy="1061.5" r="2.5"/><path d="M1071,1002 L1076,1006.3 L1071,1010"/></g>
<line x1="1077" y1="995" x2="1077" y2="1041" stroke="#444" stroke-width="1.4" />
<path d="M1189.75,876.9 L1387.5,876.9 L1387.5,892.5 L1837,892.5 L1837,966.25 L1865,966.25 L1865,838 L1163.75,838 L1163.75,933.75" fill="none" stroke="#000" stroke-width="2.6" stroke-linejoin="miter" stroke-linecap="square" />
<path d="M1865,1016.25 L1837,1016.25 L1837,1089.5 L1637.5,1089.5 L1637.5,1035.5 L1596.75,1035.5 L1596.75,1101.25 L1189.75,1101.25" fill="none" stroke="#000" stroke-width="2.6" stroke-linejoin="miter" stroke-linecap="square" />
<path d="M1865,1016.25 L1865,1123.75 L1083,1123.75" fill="none" stroke="#000" stroke-width="2.6" stroke-linejoin="miter" stroke-linecap="square" />
<rect x="1189.75" y="923.5" width="64.25" height="61.25" fill="none" stroke="#000" stroke-width="2.6" />
<rect x="1173.2" y="985.2" width="9.799999999999955" height="9.199999999999932" fill="none" stroke="#000" stroke-width="2.4" />
<rect x="1602.3" y="984.7" width="10.0" height="10.299999999999955" fill="none" stroke="#000" stroke-width="2.4" />
<rect x="1800.7" y="984.7" width="10.299999999999955" height="10.299999999999955" fill="none" stroke="#000" stroke-width="2.4" />
<line x1="1189.75" y1="876.9" x2="1189.75" y2="1101.25" stroke="#333" stroke-width="1" />
<g stroke="#888" stroke-width="0.9"><line x1="1845.8" y1="966" x2="1845.8" y2="1016"/><line x1="1850" y1="966" x2="1850" y2="1016"/><line x1="1837" y1="966" x2="1837" y2="1016"/><line x1="1865" y1="966" x2="1865" y2="1016"/></g>
<line x1="1254" y1="945.5" x2="1837" y2="945.5" stroke="#555" stroke-width="1" stroke-dasharray="6,4"/>
<line x1="1189.75" y1="1034.5" x2="1837" y2="1034.5" stroke="#555" stroke-width="1" stroke-dasharray="6,4"/>
<rect x="1101" y="1063.5" width="31.5" height="51.799999999999955" fill="none" stroke="#c8c8c8" stroke-width="0.8" stroke-dasharray="1.5,1.5"/>
<path d="M1116.75,1063.5 L1132.5,1089.4 L1116.75,1115.3 L1101,1089.4 Z" fill="none" stroke="#c8c8c8" stroke-width="0.8" stroke-dasharray="1.5,1.5"/>
<path d="M1101,1075.414 L1101,1063.5 L1110.45,1063.5 M1123.05,1063.5 L1132.5,1063.5 L1132.5,1075.414 M1132.5,1103.386 L1132.5,1115.3 L1123.05,1115.3 M1110.45,1115.3 L1101,1115.3 L1101,1103.386 M1111.2,1072.6 L1116.8,1063.5 L1122.3,1072.6 M1127.0,1080.3 L1132.5,1089.4 L1127.0,1098.5 M1122.3,1106.2 L1116.8,1115.3 L1111.2,1106.2 M1106.5,1098.5 L1101.0,1089.4 L1106.5,1080.3 " fill="none" stroke="#707070" stroke-width="0.95"/>
<rect x="1138.5" y="1063.5" width="31.299999999999955" height="51.799999999999955" fill="none" stroke="#c8c8c8" stroke-width="0.8" stroke-dasharray="1.5,1.5"/>
<path d="M1154.15,1063.5 L1169.8,1089.4 L1154.15,1115.3 L1138.5,1089.4 Z" fill="none" stroke="#c8c8c8" stroke-width="0.8" stroke-dasharray="1.5,1.5"/>
<path d="M1138.5,1075.414 L1138.5,1063.5 L1147.8899999999999,1063.5 M1160.4099999999999,1063.5 L1169.8,1063.5 L1169.8,1075.414 M1169.8,1103.386 L1169.8,1115.3 L1160.4099999999999,1115.3 M1147.8899999999999,1115.3 L1138.5,1115.3 L1138.5,1103.386 M1148.7,1072.6 L1154.2,1063.5 L1159.6,1072.6 M1164.3,1080.3 L1169.8,1089.4 L1164.3,1098.5 M1159.6,1106.2 L1154.2,1115.3 L1148.7,1106.2 M1144.0,1098.5 L1138.5,1089.4 L1144.0,1080.3 " fill="none" stroke="#707070" stroke-width="0.95"/>
<rect x="1298" y="921.5" width="43.299999999999955" height="62.0" fill="none" stroke="#c8c8c8" stroke-width="0.8" stroke-dasharray="1.5,1.5"/>
<path d="M1319.65,921.5 L1341.3,952.5 L1319.65,983.5 L1298,952.5 Z" fill="none" stroke="#c8c8c8" stroke-width="0.8" stroke-dasharray="1.5,1.5"/>
<path d="M1298,935.76 L1298,921.5 L1310.99,921.5 M1328.31,921.5 L1341.3,921.5 L1341.3,935.76 M1341.3,969.24 L1341.3,983.5 L1328.31,983.5 M1310.99,983.5 L1298,983.5 L1298,969.24 M1312.1,932.4 L1319.7,921.5 L1327.2,932.4 M1333.7,941.6 L1341.3,952.5 L1333.7,963.4 M1327.2,972.6 L1319.7,983.5 L1312.1,972.6 M1305.6,963.4 L1298.0,952.5 L1305.6,941.6 " fill="none" stroke="#707070" stroke-width="0.95"/>
<rect x="1453.8" y="921.3" width="43.700000000000045" height="62.5" fill="none" stroke="#c8c8c8" stroke-width="0.8" stroke-dasharray="1.5,1.5"/>
<path d="M1475.65,921.3 L1497.5,952.55 L1475.65,983.8 L1453.8,952.55 Z" fill="none" stroke="#c8c8c8" stroke-width="0.8" stroke-dasharray="1.5,1.5"/>
<path d="M1453.8,935.675 L1453.8,921.3 L1466.9099999999999,921.3 M1484.3899999999999,921.3 L1497.5,921.3 L1497.5,935.675 M1497.5,969.425 L1497.5,983.8 L1484.3899999999999,983.8 M1466.9099999999999,983.8 L1453.8,983.8 L1453.8,969.425 M1468.0,932.2 L1475.7,921.3 L1483.3,932.2 M1489.9,941.6 L1497.5,952.5 L1489.9,963.5 M1483.3,972.9 L1475.7,983.8 L1468.0,972.9 M1461.4,963.5 L1453.8,952.5 L1461.4,941.6 " fill="none" stroke="#707070" stroke-width="0.95"/>
<rect x="1505" y="921.3" width="43.299999999999955" height="62.5" fill="none" stroke="#c8c8c8" stroke-width="0.8" stroke-dasharray="1.5,1.5"/>
<path d="M1526.65,921.3 L1548.3,952.55 L1526.65,983.8 L1505,952.55 Z" fill="none" stroke="#c8c8c8" stroke-width="0.8" stroke-dasharray="1.5,1.5"/>
<path d="M1505,935.675 L1505,921.3 L1517.99,921.3 M1535.31,921.3 L1548.3,921.3 L1548.3,935.675 M1548.3,969.425 L1548.3,983.8 L1535.31,983.8 M1517.99,983.8 L1505,983.8 L1505,969.425 M1519.1,932.2 L1526.7,921.3 L1534.2,932.2 M1540.7,941.6 L1548.3,952.5 L1540.7,963.5 M1534.2,972.9 L1526.7,983.8 L1519.1,972.9 M1512.6,963.5 L1505.0,952.5 L1512.6,941.6 " fill="none" stroke="#707070" stroke-width="0.95"/>
<rect x="1555.5" y="921.3" width="43.299999999999955" height="62.5" fill="none" stroke="#c8c8c8" stroke-width="0.8" stroke-dasharray="1.5,1.5"/>
<path d="M1577.15,921.3 L1598.8,952.55 L1577.15,983.8 L1555.5,952.55 Z" fill="none" stroke="#c8c8c8" stroke-width="0.8" stroke-dasharray="1.5,1.5"/>
<path d="M1555.5,935.675 L1555.5,921.3 L1568.49,921.3 M1585.81,921.3 L1598.8,921.3 L1598.8,935.675 M1598.8,969.425 L1598.8,983.8 L1585.81,983.8 M1568.49,983.8 L1555.5,983.8 L1555.5,969.425 M1569.6,932.2 L1577.2,921.3 L1584.7,932.2 M1591.2,941.6 L1598.8,952.5 L1591.2,963.5 M1584.7,972.9 L1577.2,983.8 L1569.6,972.9 M1563.1,963.5 L1555.5,952.5 L1563.1,941.6 " fill="none" stroke="#707070" stroke-width="0.95"/>
<line x1="1186.75" y1="856.3" x2="1840" y2="856.3" stroke="#666" stroke-width="0.8"/>
<path d="M1186.75,859.3 L1192.75,853.3" stroke="#333" stroke-width="0.9"/>
<line x1="1189.75" y1="853.3" x2="1189.75" y2="860.3" stroke="#666" stroke-width="0.8"/>
<path d="M1384,859.3 L1390,853.3" stroke="#333" stroke-width="0.9"/>
<line x1="1387" y1="853.3" x2="1387" y2="860.3" stroke="#666" stroke-width="0.8"/>
<path d="M1834,859.3 L1840,853.3" stroke="#333" stroke-width="0.9"/>
<line x1="1837" y1="853.3" x2="1837" y2="860.3" stroke="#666" stroke-width="0.8"/>
<line x1="1189.75" y1="856" x2="1189.75" y2="866" stroke="#666" stroke-width="0.8"/>
<line x1="1387" y1="856" x2="1387" y2="866" stroke="#666" stroke-width="0.8"/>
<line x1="1837" y1="856" x2="1837" y2="866" stroke="#666" stroke-width="0.8"/>
<line x1="988" y1="1013.5" x2="1840" y2="1013.5" stroke="#666" stroke-width="0.8"/>
<path d="M988,1016.5 L994,1010.5" stroke="#333" stroke-width="0.9"/>
<line x1="991" y1="1010.5" x2="991" y2="1017.5" stroke="#666" stroke-width="0.8"/>
<path d="M1074,1016.5 L1080,1010.5" stroke="#333" stroke-width="0.9"/>
<line x1="1077" y1="1010.5" x2="1077" y2="1017.5" stroke="#666" stroke-width="0.8"/>
<path d="M1084.3,1016.5 L1090.3,1010.5" stroke="#333" stroke-width="0.9"/>
<line x1="1087.3" y1="1010.5" x2="1087.3" y2="1017.5" stroke="#666" stroke-width="0.8"/>
<path d="M1180,1016.5 L1186,1010.5" stroke="#333" stroke-width="0.9"/>
<line x1="1183" y1="1010.5" x2="1183" y2="1017.5" stroke="#666" stroke-width="0.8"/>
<path d="M1186.75,1016.5 L1192.75,1010.5" stroke="#333" stroke-width="0.9"/>
<line x1="1189.75" y1="1010.5" x2="1189.75" y2="1017.5" stroke="#666" stroke-width="0.8"/>
<path d="M1609.3,1016.5 L1615.3,1010.5" stroke="#333" stroke-width="0.9"/>
<line x1="1612.3" y1="1010.5" x2="1612.3" y2="1017.5" stroke="#666" stroke-width="0.8"/>
<path d="M1797.7,1016.5 L1803.7,1010.5" stroke="#333" stroke-width="0.9"/>
<line x1="1800.7" y1="1010.5" x2="1800.7" y2="1017.5" stroke="#666" stroke-width="0.8"/>
<path d="M1808,1016.5 L1814,1010.5" stroke="#333" stroke-width="0.9"/>
<line x1="1811" y1="1010.5" x2="1811" y2="1017.5" stroke="#666" stroke-width="0.8"/>
<path d="M1834,1016.5 L1840,1010.5" stroke="#333" stroke-width="0.9"/>
<line x1="1837" y1="1010.5" x2="1837" y2="1017.5" stroke="#666" stroke-width="0.8"/>
<line x1="1186.75" y1="1071" x2="1840" y2="1071" stroke="#666" stroke-width="0.8"/>
<path d="M1186.75,1074 L1192.75,1068" stroke="#333" stroke-width="0.9"/>
<line x1="1189.75" y1="1068" x2="1189.75" y2="1075" stroke="#666" stroke-width="0.8"/>
<path d="M1593.75,1074 L1599.75,1068" stroke="#333" stroke-width="0.9"/>
<line x1="1596.75" y1="1068" x2="1596.75" y2="1075" stroke="#666" stroke-width="0.8"/>
<path d="M1634.5,1074 L1640.5,1068" stroke="#333" stroke-width="0.9"/>
<line x1="1637.5" y1="1068" x2="1637.5" y2="1075" stroke="#666" stroke-width="0.8"/>
<path d="M1834,1074 L1840,1068" stroke="#333" stroke-width="0.9"/>
<line x1="1837" y1="1068" x2="1837" y2="1075" stroke="#666" stroke-width="0.8"/>
<line x1="1186.75" y1="941" x2="1257" y2="941" stroke="#666" stroke-width="0.8"/>
<path d="M1186.75,944 L1192.75,938" stroke="#333" stroke-width="0.9"/>
<line x1="1189.75" y1="938" x2="1189.75" y2="945" stroke="#666" stroke-width="0.8"/>
<path d="M1251,944 L1257,938" stroke="#333" stroke-width="0.9"/>
<line x1="1254" y1="938" x2="1254" y2="945" stroke="#666" stroke-width="0.8"/>
<line x1="1272.5" y1="873.9" x2="1272.5" y2="1104.25" stroke="#666" stroke-width="0.8"/>
<path d="M1269.5,879.9 L1275.5,873.9" stroke="#333" stroke-width="0.9"/>
<line x1="1269.5" y1="876.9" x2="1276.5" y2="876.9" stroke="#666" stroke-width="0.8"/>
<path d="M1269.5,926.5 L1275.5,920.5" stroke="#333" stroke-width="0.9"/>
<line x1="1269.5" y1="923.5" x2="1276.5" y2="923.5" stroke="#666" stroke-width="0.8"/>
<path d="M1269.5,987.75 L1275.5,981.75" stroke="#333" stroke-width="0.9"/>
<line x1="1269.5" y1="984.75" x2="1276.5" y2="984.75" stroke="#666" stroke-width="0.8"/>
<path d="M1269.5,1104.25 L1275.5,1098.25" stroke="#333" stroke-width="0.9"/>
<line x1="1269.5" y1="1101.25" x2="1276.5" y2="1101.25" stroke="#666" stroke-width="0.8"/>
<line x1="1371.3" y1="873.9" x2="1371.3" y2="1104.25" stroke="#666" stroke-width="0.8"/>
<path d="M1368.3,895.5 L1374.3,889.5" stroke="#333" stroke-width="0.9"/>
<line x1="1368.3" y1="892.5" x2="1375.3" y2="892.5" stroke="#666" stroke-width="0.8"/>
<path d="M1368.3,948.5 L1374.3,942.5" stroke="#333" stroke-width="0.9"/>
<line x1="1368.3" y1="945.5" x2="1375.3" y2="945.5" stroke="#666" stroke-width="0.8"/>
<path d="M1368.3,1037.5 L1374.3,1031.5" stroke="#333" stroke-width="0.9"/>
<line x1="1368.3" y1="1034.5" x2="1375.3" y2="1034.5" stroke="#666" stroke-width="0.8"/>
<path d="M1368.3,1104.25 L1374.3,1098.25" stroke="#333" stroke-width="0.9"/>
<line x1="1368.3" y1="1101.25" x2="1375.3" y2="1101.25" stroke="#666" stroke-width="0.8"/>
<line x1="1634.3" y1="889.5" x2="1634.3" y2="1039" stroke="#666" stroke-width="0.8"/>
<path d="M1631.3,895.5 L1637.3,889.5" stroke="#333" stroke-width="0.9"/>
<line x1="1631.3" y1="892.5" x2="1638.3" y2="892.5" stroke="#666" stroke-width="0.8"/>
<path d="M1631.3,988 L1637.3,982" stroke="#333" stroke-width="0.9"/>
<line x1="1631.3" y1="985" x2="1638.3" y2="985" stroke="#666" stroke-width="0.8"/>
<path d="M1631.3,998 L1637.3,992" stroke="#333" stroke-width="0.9"/>
<line x1="1631.3" y1="995" x2="1638.3" y2="995" stroke="#666" stroke-width="0.8"/>
<path d="M1631.3,1037.5 L1637.3,1031.5" stroke="#333" stroke-width="0.9"/>
<line x1="1631.3" y1="1034.5" x2="1638.3" y2="1034.5" stroke="#666" stroke-width="0.8"/>
<line x1="1773.8" y1="982" x2="1773.8" y2="1093" stroke="#666" stroke-width="0.8"/>
<path d="M1770.8,988 L1776.8,982" stroke="#333" stroke-width="0.9"/>
<line x1="1770.8" y1="985" x2="1777.8" y2="985" stroke="#666" stroke-width="0.8"/>
<path d="M1770.8,998 L1776.8,992" stroke="#333" stroke-width="0.9"/>
<line x1="1770.8" y1="995" x2="1777.8" y2="995" stroke="#666" stroke-width="0.8"/>
<path d="M1770.8,1092.5 L1776.8,1086.5" stroke="#333" stroke-width="0.9"/>
<line x1="1770.8" y1="1089.5" x2="1777.8" y2="1089.5" stroke="#666" stroke-width="0.8"/>
<line x1="1021" y1="992" x2="1021" y2="1076.8" stroke="#666" stroke-width="0.8"/>
<path d="M1018,998 L1024,992" stroke="#333" stroke-width="0.9"/>
<line x1="1018" y1="995" x2="1025" y2="995" stroke="#666" stroke-width="0.8"/>
<path d="M1018,1076.8 L1024,1070.8" stroke="#333" stroke-width="0.9"/>
<line x1="1018" y1="1073.8" x2="1025" y2="1073.8" stroke="#666" stroke-width="0.8"/>
<line x1="1116" y1="982.6" x2="1116" y2="1044" stroke="#666" stroke-width="0.8"/>
<path d="M1113,988.6 L1119,982.6" stroke="#333" stroke-width="0.9"/>
<line x1="1113" y1="985.6" x2="1120" y2="985.6" stroke="#666" stroke-width="0.8"/>
<path d="M1113,1044 L1119,1038" stroke="#333" stroke-width="0.9"/>
<line x1="1113" y1="1041" x2="1120" y2="1041" stroke="#666" stroke-width="0.8"/>
<text x="1288.8" y="853.8" font-size="10.2" fill="#1a1a1a" text-anchor="middle" textLength="16.0" lengthAdjust="spacingAndGlyphs" stroke="#1a1a1a" stroke-width="0.25">3575</text>
<text x="1612" y="853.8" font-size="10.2" fill="#1a1a1a" text-anchor="middle" textLength="16.0" lengthAdjust="spacingAndGlyphs" stroke="#1a1a1a" stroke-width="0.25">8155</text>
<text x="1222" y="938" font-size="10.2" fill="#1a1a1a" text-anchor="middle" textLength="16.0" lengthAdjust="spacingAndGlyphs" stroke="#1a1a1a" stroke-width="0.25">1160</text>
<text x="1035" y="1010" font-size="10.2" fill="#1a1a1a" text-anchor="middle" textLength="16.0" lengthAdjust="spacingAndGlyphs" stroke="#1a1a1a" stroke-width="0.25">1545</text>
<text x="1096" y="1023" font-size="10.2" fill="#1a1a1a" text-anchor="middle" textLength="12.0" lengthAdjust="spacingAndGlyphs" stroke="#1a1a1a" stroke-width="0.25">185</text>
<text x="1130.6" y="1010.6" font-size="10.2" fill="#1a1a1a" text-anchor="middle" textLength="16.0" lengthAdjust="spacingAndGlyphs" stroke="#1a1a1a" stroke-width="0.25">1570</text>
<text x="1164.6" y="1023" font-size="10.2" fill="#1a1a1a" text-anchor="middle" textLength="12.0" lengthAdjust="spacingAndGlyphs" stroke="#1a1a1a" stroke-width="0.25">145</text>
<text x="1392" y="1010" font-size="10.2" fill="#1a1a1a" text-anchor="middle" textLength="16.0" lengthAdjust="spacingAndGlyphs" stroke="#1a1a1a" stroke-width="0.25">7635</text>
<text x="1706" y="1010" font-size="10.2" fill="#1a1a1a" text-anchor="middle" textLength="16.0" lengthAdjust="spacingAndGlyphs" stroke="#1a1a1a" stroke-width="0.25">3440</text>
<text x="1824" y="1010" font-size="10.2" fill="#1a1a1a" text-anchor="middle" textLength="12.0" lengthAdjust="spacingAndGlyphs" stroke="#1a1a1a" stroke-width="0.25">485</text>
<text x="1594" y="1024" font-size="10.2" fill="#1a1a1a" text-anchor="middle" textLength="12.0" lengthAdjust="spacingAndGlyphs" stroke="#1a1a1a" stroke-width="0.25">160</text>
<text x="1791" y="1024" font-size="10.2" fill="#1a1a1a" text-anchor="middle" textLength="12.0" lengthAdjust="spacingAndGlyphs" stroke="#1a1a1a" stroke-width="0.25">160</text>
<text x="1393" y="1068" font-size="10.2" fill="#1a1a1a" text-anchor="middle" textLength="16.0" lengthAdjust="spacingAndGlyphs" stroke="#1a1a1a" stroke-width="0.25">7380</text>
<text x="1617" y="1068" font-size="10.2" fill="#1a1a1a" text-anchor="middle" textLength="12.0" lengthAdjust="spacingAndGlyphs" stroke="#1a1a1a" stroke-width="0.25">750</text>
<text x="1737" y="1068" font-size="10.2" fill="#1a1a1a" text-anchor="middle" textLength="16.0" lengthAdjust="spacingAndGlyphs" stroke="#1a1a1a" stroke-width="0.25">3605</text>
<text transform="translate(1270.6,900) rotate(-90)" font-size="10.2" fill="#1a1a1a" text-anchor="middle" textLength="12.0" lengthAdjust="spacingAndGlyphs" stroke="#1a1a1a" stroke-width="0.25">850</text>
<text transform="translate(1270.6,954) rotate(-90)" font-size="10.2" fill="#1a1a1a" text-anchor="middle" textLength="16.0" lengthAdjust="spacingAndGlyphs" stroke="#1a1a1a" stroke-width="0.25">1115</text>
<text transform="translate(1270.6,1045) rotate(-90)" font-size="10.2" fill="#1a1a1a" text-anchor="middle" textLength="16.0" lengthAdjust="spacingAndGlyphs" stroke="#1a1a1a" stroke-width="0.25">2115</text>
<text transform="translate(1367,884) rotate(-90)" font-size="10.2" fill="#1a1a1a" text-anchor="middle" textLength="12.0" lengthAdjust="spacingAndGlyphs" stroke="#1a1a1a" stroke-width="0.25">290</text>
<text transform="translate(1367,916) rotate(-90)" font-size="10.2" fill="#1a1a1a" text-anchor="middle" textLength="12.0" lengthAdjust="spacingAndGlyphs" stroke="#1a1a1a" stroke-width="0.25">960</text>
<text transform="translate(1367,990) rotate(-90)" font-size="10.2" fill="#1a1a1a" text-anchor="middle" textLength="16.0" lengthAdjust="spacingAndGlyphs" stroke="#1a1a1a" stroke-width="0.25">1610</text>
<text transform="translate(1367,1058) rotate(-90)" font-size="10.2" fill="#1a1a1a" text-anchor="middle" textLength="16.0" lengthAdjust="spacingAndGlyphs" stroke="#1a1a1a" stroke-width="0.25">1220</text>
<text transform="translate(1630,939) rotate(-90)" font-size="10.2" fill="#1a1a1a" text-anchor="middle" textLength="16.0" lengthAdjust="spacingAndGlyphs" stroke="#1a1a1a" stroke-width="0.25">1685</text>
<text transform="translate(1640,977) rotate(-90)" font-size="10.2" fill="#1a1a1a" text-anchor="middle" textLength="12.0" lengthAdjust="spacingAndGlyphs" stroke="#1a1a1a" stroke-width="0.25">160</text>
<text transform="translate(1630,1016) rotate(-90)" font-size="10.2" fill="#1a1a1a" text-anchor="middle" textLength="12.0" lengthAdjust="spacingAndGlyphs" stroke="#1a1a1a" stroke-width="0.25">760</text>
<text transform="translate(1771.7,989.5) rotate(-90)" font-size="10.2" fill="#1a1a1a" text-anchor="middle" textLength="12.0" lengthAdjust="spacingAndGlyphs" stroke="#1a1a1a" stroke-width="0.25">160</text>
<text transform="translate(1769,1047) rotate(-90)" font-size="10.2" fill="#1a1a1a" text-anchor="middle" textLength="16.0" lengthAdjust="spacingAndGlyphs" stroke="#1a1a1a" stroke-width="0.25">1725</text>
<text transform="translate(1018,1034) rotate(-90)" font-size="10.2" fill="#1a1a1a" text-anchor="middle" textLength="16.0" lengthAdjust="spacingAndGlyphs" stroke="#1a1a1a" stroke-width="0.25">1435</text>
<text transform="translate(1114.4,1013.4) rotate(-90)" font-size="10.2" fill="#1a1a1a" text-anchor="middle" textLength="16.0" lengthAdjust="spacingAndGlyphs" stroke="#1a1a1a" stroke-width="0.25">1020</text>
<text transform="translate(1158.7,975.5) rotate(-90)" font-size="10.2" fill="#1a1a1a" text-anchor="middle" textLength="12.0" lengthAdjust="spacingAndGlyphs" stroke="#1a1a1a" stroke-width="0.25">160</text>
<text x="1392.3" y="995.3" font-size="36" font-weight="bold" fill="#000" textLength="40.5" lengthAdjust="spacingAndGlyphs">06</text>
<text x="1505.5" y="1008.8" font-size="15.5" fill="#333" textLength="35.8" lengthAdjust="spacingAndGlyphs">5A.06</text>
<text x="1717" y="941.8" font-size="16.5" fill="#111" textLength="108" lengthAdjust="spacingAndGlyphs">sv. výška 1,2 m</text>
<g transform="matrix(0.4,0,0,0.397,59.48,748.54)">
<path d="M1032.3,180 L1126,180 L1126,295.6 L1032.3,295.6 Z" fill="#bead87" stroke="none"/>
<path d="M989,295.6 L1183,295.6 L1183,300.6 L1191.9,300.6 L1190,376 L1177.5,376 L1178.2,443 L1188,443 L1188,489.4 L1178.75,489.4 L1179.2,528 L1180,558 L1180,609.4 L1181.3,665 L1187.8,665 L1187.8,805.6 L1076,805.6 L1076,665 L1076,638 L982,638 L982,559.4 L1076,559.4 L1076,475.6 L980.6,475.6 L980.6,300.6 L989,300.6 Z" fill="#bead87" stroke="none"/>
<path d="M983,664.4 L1076,664.4 L1076,805.6 L1024.4,805.6 L1024.4,780.4 L983,780.4 Z" fill="#bead87" stroke="none"/>
<path d="M1008,503.5 L1076,503.5 L1076,550.6 L1008,550.6 Z" fill="#bead87" stroke="none"/>
<path d="M1188,404 L1295,404 L1295,442.75 L1345,442.75 L1345,530 L1237,530 L1237,496 L1204.4,496 L1204.4,489.4 L1188,489.4 Z" fill="#bead87" stroke="none"/>
<g fill="none" stroke="#2a2620" stroke-width="3.6" stroke-linejoin="miter">
<path d="M989,292 L953,292 L955.3,796.5 L1008.75,796.5 L1008.75,826 L1207.5,826"/>
<path d="M1207.5,619 L1190.6,619 L1190.6,609.4 L1180,609.4 L1181.3,665 L1187.8,665 L1187.8,805.6 L1076,805.6 L1076,701 L1070.6,701 L1070.6,805.6 L1024.4,805.6 L1024.4,780.4 L983,780.4 L983,664.4 L1070.6,664.4"/>
<path d="M989,292 L989,300.6 L980.6,300.6 L980.6,475.6 L1076,475.6 L1076,511 L1070.6,511 L1070.6,503.5 L1008,503.5 L1008,550.6 L1070.6,550.6 L1070.6,545.6 L1076,545.6 L1076,559.4 L982,559.4 L982,638 L1076,638 L1076,665"/>
<path d="M1370,548.75 L1190.6,548.75 L1190.6,558 L1180,558 L1180,542"/>
<path d="M1183,292 L1183,300.6 L1191.9,300.6 L1190,376 L1177.5,376 L1178.2,443 L1188,443 L1188,404 L1295,404 L1295,442.75 L1345,442.75 L1345,530 L1237,530 L1237,496 L1204.4,496 L1204.4,489.4 L1178.75,489.4 L1179.2,528"/>
<rect x="1191" y="505" width="39" height="35"/>
<rect x="1163.8" y="548.8" width="9.2" height="8.8"/>
</g>
<line x1="989" y1="295.6" x2="1183" y2="295.6" stroke="#7a6e55" stroke-width="2" stroke-dasharray="6,4"/>
</g>
<g fill="none" stroke="#2a2620" stroke-width="1.4">
<path d="M532.7,864.7 L545.3,864.7 L545.3,810.7 L596.5,810.7 L596.5,821.8 L555.4,821.8 L555.6,898 L580,898 L580,921.2 L606.2,921.2 L606.2,911.3 L619.4,911.3 L619.4,924.5 L606.2,924.5 L606.2,955.8 L626.2,955.8 L626.2,959.1 L613.1,959.1 L612.8,971.5 L609,971.5 L609,967.3"/>
<path d="M634.1,810.7 L688,810.7 L688,859.6 L700.1,859.6 L700.1,876.9 L733.6,876.9 L733.6,886.4 L701.8,886.4 L701.8,921.4 L667.9,921.4 L668.5,954.6 L668.5,959.1 L645.4,959.1 L645.4,956.4 L664.6,956.4 L664.6,914 L682.5,914 L682.5,910.7 L688.2,910.7 L688.2,868.3 L677.5,868.3 L676.8,821.8 L634.1,821.8 L634.1,810.7"/>
<path d="M756,876.9 L798.1,876.9 L798.1,927.7 L787.5,927.7 L787.5,886.4 L756,886.4 L756,876.9"/>
<path d="M787.9,945.5 L798.5,945.5 L798.5,959.1 L787.9,959.1 L787.9,945.5"/>
<path d="M787.9,977.2 L798.5,977.2 L798.5,993.6 L787.9,993.6 L787.9,977.2"/>
<path d="M542.7,1076.5 L542.7,1062.2 L799.3,1062.2 L798.8,1010.5 L787.9,1010.5 L787.9,1050.5 L703.4,1050.5 L703.4,1018.7 L710.2,1018.7 L709.9,987 L695.2,987 L695.2,980.5 L692.4,980.5 L693,1004.5 L699,1004.5 L699,1017.7 L695.7,1017.7 L695.7,1051.6 L643.7,1051.6 L644.3,1024.2 L648.1,1024.2 L648.1,1020.4 L654.7,1020.4 L654.7,1005.6 L673.8,1005.6 L673.8,1001.3 L676,999.6 L676,998 L627.3,998 L627.3,1005.6 L641,1005.6 L641,1051.6 L609.3,1051.6 L609.3,1005.6 L612,1005.6 L612,993.6 L608.9,993.6 L608.9,994.5 L598.3,994.5 L598.3,1053 L542.1,1053 L542.1,994.5 L535.7,994.5"/>
<path d="M644.3,1005.6 L651.4,1005.6 L651.4,1017.1 L644.3,1017.1 L644.3,1005.6"/>
<path d="M690.2,955.3 L690.2,958.6 L692.5,960.5"/>
</g>
<line x1="690.2" y1="956.9" x2="788" y2="956.9" stroke="#3a3a3a" stroke-width="2.8"/>
<rect x="614.3" y="875.2" width="4.1" height="3.5" fill="none" stroke="#222" stroke-width="1.1"/>
<g stroke="#ccc" stroke-width="2.2"><line x1="596.5" y1="811.6" x2="634.1" y2="811.6"/><line x1="733.6" y1="884.9" x2="756" y2="884.9"/><line x1="793" y1="927.7" x2="793" y2="945.5"/><line x1="793" y1="959.1" x2="793" y2="977.2"/><line x1="793" y1="993.6" x2="793" y2="1010.5"/></g>
<g stroke="#d4d4d4" stroke-width="1"><line x1="612" y1="971.7" x2="612" y2="993.6"/><line x1="692.5" y1="959" x2="692.5" y2="980.5"/><line x1="676" y1="999" x2="692.4" y2="999"/><line x1="626.2" y1="957.5" x2="645.4" y2="957.5"/><line x1="668.5" y1="957.5" x2="690.2" y2="957.5"/></g>
<g stroke="#ccc" stroke-width="0.8" stroke-dasharray="3,2" fill="none"><line x1="557" y1="839.1" x2="596.5" y2="839.1"/><line x1="634" y1="839.1" x2="676" y2="839.1"/><path d="M596.5,821.8 L596.5,849.3 L634.1,849.3 L634.1,821.8"/></g>
<g transform="matrix(0.398,0,0,0.398,57.48,779.6)">
<path d="M1189.75,876.9 L1387.5,876.9 L1387.5,892.5 L1837,892.5 L1837,1089.5 L1637.5,1089.5 L1637.5,1035.5 L1596.75,1035.5 L1596.75,1101.25 L1189.75,1101.25 Z" fill="#bead87" stroke="none"/>
<path d="M991.9,995 L1077,995 L1077,994.4 L1189.75,994.4 L1189.75,1101.25 L1087.3,1101.25 L1087.3,1073.8 L991.9,1073.8 Z" fill="#bead87" stroke="none"/>
<g fill="none" stroke="#2a2620" stroke-width="3.6">
<path d="M1189.75,876.9 L1387.5,876.9 L1387.5,892.5 L1837,892.5 L1837,966.25 L1865,966.25 L1865,838 L1163.75,838 L1163.75,933.75"/>
<path d="M1865,1016.25 L1837,1016.25 L1837,1089.5 L1637.5,1089.5 L1637.5,1035.5 L1596.75,1035.5 L1596.75,1101.25 L1189.75,1101.25"/>
<path d="M1865,1016.25 L1865,1123.75 L1083,1123.75"/>
<rect x="1189.75" y="923.5" width="64.25" height="61.25"/>
<rect x="1173.2" y="985.2" width="9.8" height="9.2"/><rect x="1602.3" y="984.7" width="10" height="10.3"/><rect x="1800.7" y="984.7" width="10.3" height="10.3"/>
</g>
<g fill="none" stroke="#6f6450" stroke-width="2.2" stroke-dasharray="7,5"><line x1="1254" y1="945.5" x2="1837" y2="945.5"/><line x1="1189.75" y1="1034.5" x2="1837" y2="1034.5"/><line x1="1077" y1="1041" x2="1189.75" y2="1041"/><line x1="1087.3" y1="985.6" x2="1173" y2="985.6" stroke="#555"/></g>
<g fill="none" stroke="#8a8070" stroke-width="2" stroke-dasharray="6,4">
<rect x="1101" y="1063.5" width="31.5" height="51.799999999999955"/>
<path d="M1116.75,1063.5 L1132.5,1089.4 L1116.75,1115.3 L1101,1089.4 Z" stroke-dasharray="none" stroke-width="1.4"/>
<rect x="1138.5" y="1063.5" width="31.299999999999955" height="51.799999999999955"/>
<path d="M1154.15,1063.5 L1169.8,1089.4 L1154.15,1115.3 L1138.5,1089.4 Z" stroke-dasharray="none" stroke-width="1.4"/>
<rect x="1298" y="921.5" width="43.299999999999955" height="62.0"/>
<path d="M1319.65,921.5 L1341.3,952.5 L1319.65,983.5 L1298,952.5 Z" stroke-dasharray="none" stroke-width="1.4"/>
<rect x="1453.8" y="921.3" width="43.700000000000045" height="62.5"/>
<path d="M1475.65,921.3 L1497.5,952.55 L1475.65,983.8 L1453.8,952.55 Z" stroke-dasharray="none" stroke-width="1.4"/>
<rect x="1505" y="921.3" width="43.299999999999955" height="62.5"/>
<path d="M1526.65,921.3 L1548.3,952.55 L1526.65,983.8 L1505,952.55 Z" stroke-dasharray="none" stroke-width="1.4"/>
<rect x="1555.5" y="921.3" width="43.299999999999955" height="62.5"/>
<path d="M1577.15,921.3 L1598.8,952.55 L1577.15,983.8 L1555.5,952.55 Z" stroke-dasharray="none" stroke-width="1.4"/>
</g>
<g fill="none" stroke="#6f6450" stroke-width="1.8"><path d="M1021,995 L1021,1073.8 M1045.6,995 L1045.6,1073.8 M1056,995 L1056,1073.8 M1067,995 L1067,1073.8"/><path d="M1005,1061 L1005,1006.3 L1076,1006.3 M1005,1061 L1074.5,1061"/><path d="M1025.6,1035 L1077,1035 M1025.6,1039 L1077,1039"/><path d="M1025.6,1039 L992,1073.8 M1039,1039 L1025,1073.8 M1047,1039 L1042,1073.8"/><path d="M1077,995 L1077,1073.8"/></g>
<g stroke="#bbb" stroke-width="2"><line x1="1845.8" y1="966" x2="1845.8" y2="1016"/><line x1="1850" y1="966" x2="1850" y2="1016"/><line x1="1865" y1="966" x2="1865" y2="1016"/></g>
<g fill="none" stroke="#999" stroke-width="2.2"><path d="M991.9,876.9 L991.9,910.6 L1087.3,910.6 L1087.3,994.4"/><path d="M1077,1073.8 L1087.3,1073.8 L1087.3,1101.3"/></g>
</g>
</svg></body></html>
